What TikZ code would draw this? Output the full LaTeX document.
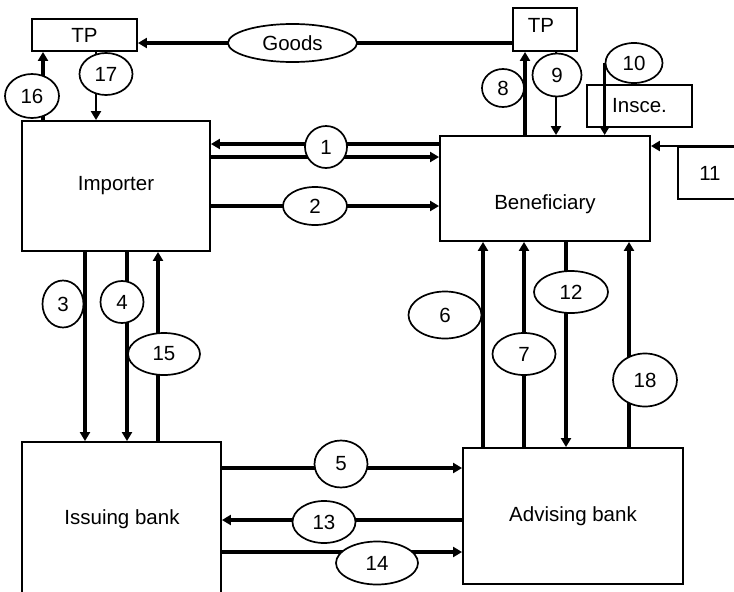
\documentclass[tikz,border=0pt]{standalone}
\usepackage{fontspec}
\setmainfont{Liberation Sans}
\usetikzlibrary{shapes.geometric,arrows.meta,backgrounds}
\begin{document}
\begin{tikzpicture}[x=1pt,y=-1pt,
  every node/.style={font=\fontsize{20.5}{24}\selectfont, inner sep=0pt},
  box/.style={draw, line width=1.9pt, rectangle},
  oval/.style={draw, fill=white, line width=1.7pt, ellipse},
  txt/.style={},
  flow/.style={line width=4pt, -{Triangle[length=9pt,width=10pt]}},
  thinflow/.style={line width=2.4pt, -{Triangle[length=9pt,width=10pt]}}]
\useasboundingbox (0,0) rectangle (734,592);
\clip (0,0) rectangle (734,592);

% parties and banks
\node[box, minimum width=105, minimum height=32] (tpL) at (84.5,35) {TP};
\node[box, minimum width=64, minimum height=43] (tpR) at (545,29.5) {};
\node[txt] (tpRt) at (541,25) {TP};
\node[box, minimum width=188, minimum height=130] (imp) at (116,186) {Importer};
\node[box, minimum width=210, minimum height=105] (ben) at (545,188.5) {};
\node[txt] (bent) at (545,204) {Beneficiary};
\node[box, minimum width=105, minimum height=42] (ins) at (639.5,106) {Insce.};
\node[box, minimum width=82, minimum height=52] (b11) at (719,173) {};
\node[txt] (b11t) at (710,173) {11};
\node[box, minimum width=199, minimum height=168] (iss) at (121.5,526) {};
\node[txt] (isst) at (122,519) {Issuing bank};
\node[box, minimum width=220, minimum height=136] (adv) at (573,516) {Advising bank};

% step labels
\node[oval, minimum width=129, minimum height=38] (goods) at (292.5,43) {Goods};
\node[oval, minimum width=42, minimum height=42] (e1) at (326,147) {1};
\node[oval, minimum width=64, minimum height=38] (e2) at (315,206) {2};
\node[oval, minimum width=41, minimum height=47] (e3) at (63,304) {3};
\node[oval, minimum width=43, minimum height=42] (e4) at (122,302) {4};
\node[oval, minimum width=53, minimum height=47] (e5) at (341,464) {5};
\node[oval, minimum width=73, minimum height=47] (e6) at (445,315) {6};
\node[oval, minimum width=63, minimum height=42] (e7) at (524,354) {7};
\node[oval, minimum width=42, minimum height=38] (e8) at (503,88) {8};
\node[oval, minimum width=49, minimum height=43] (e9) at (557,75) {9};
\node[oval, minimum width=57, minimum height=40] (e10) at (634,63) {10};
\node[oval, minimum width=74, minimum height=42] (e12) at (571,292) {12};
\node[oval, minimum width=63, minimum height=42] (e13) at (324,522) {13};
\node[oval, minimum width=82, minimum height=43] (e14) at (377,563) {14};
\node[oval, minimum width=72, minimum height=42] (e15) at (164,354) {15};
\node[oval, minimum width=54, minimum height=44] (e16) at (32,96) {16};
\node[oval, minimum width=53, minimum height=42] (e17) at (106,74) {17};
\node[oval, minimum width=64, minimum height=53] (e18) at (645,380) {18};

% guide coordinates for the connector tracks
\coordinate (yG) at (0,43);
\coordinate (y1a) at (0,144);
\coordinate (y1b) at (0,157);
\coordinate (y2) at (0,206);
\coordinate (y11) at (0,146);
\coordinate (y5) at (0,468);
\coordinate (y13) at (0,520);
\coordinate (y14) at (0,552);
\coordinate (x3) at (85,0);
\coordinate (x4) at (127,0);
\coordinate (x15) at (158,0);
\coordinate (x16) at (43,0);
\coordinate (x17) at (96,0);
\coordinate (x8) at (525,0);
\coordinate (x9) at (556,0);
\coordinate (x6) at (483,0);
\coordinate (x7) at (524,0);
\coordinate (x12) at (566,0);
\coordinate (x18) at (629,0);
\coordinate (r11) at (745,146);

\begin{pgfonlayer}{background}
  \draw[flow, line width=4.5pt] (tpR.west |- yG) -- (tpL.east |- yG);
  \draw[flow] (ben.west |- y1a) -- (imp.east |- y1a);
  \draw[flow] (imp.east |- y1b) -- (ben.west |- y1b);
  \draw[flow] (imp.east |- y2) -- (ben.west |- y2);
  \draw[flow] (x3 |- imp.south) -- (x3 |- iss.north);
  \draw[flow] (x4 |- imp.south) -- (x4 |- iss.north);
  \draw[flow] (x15 |- iss.north) -- (x15 |- imp.south);
  \draw[flow, line width=3.2pt] (x16 |- imp.north) -- (x16 |- tpL.south);
  \draw[thinflow] (x17 |- tpL.south) -- (x17 |- imp.north);
  \draw[flow, line width=3.2pt] (x8 |- ben.north) -- (x8 |- tpR.south);
  \draw[thinflow] (x9 |- tpR.south) -- (x9 |- ben.north);
  \draw[thinflow] (e10.west) -- (e10.west |- ben.north);
  \draw[thinflow] (r11) -- (ben.east |- y11);
  \draw[flow] (x6 |- adv.north) -- (x6 |- ben.south);
  \draw[flow] (x7 |- adv.north) -- (x7 |- ben.south);
  \draw[flow, line width=3.2pt] (x12 |- ben.south) -- (x12 |- adv.north);
  \draw[flow] (x18 |- adv.north) -- (x18 |- ben.south);
  \draw[flow] (iss.east |- y5) -- (adv.west |- y5);
  \draw[flow] (adv.west |- y13) -- (iss.east |- y13);
  \draw[flow] (iss.east |- y14) -- (adv.west |- y14);
\end{pgfonlayer}
\end{tikzpicture}
\end{document}
